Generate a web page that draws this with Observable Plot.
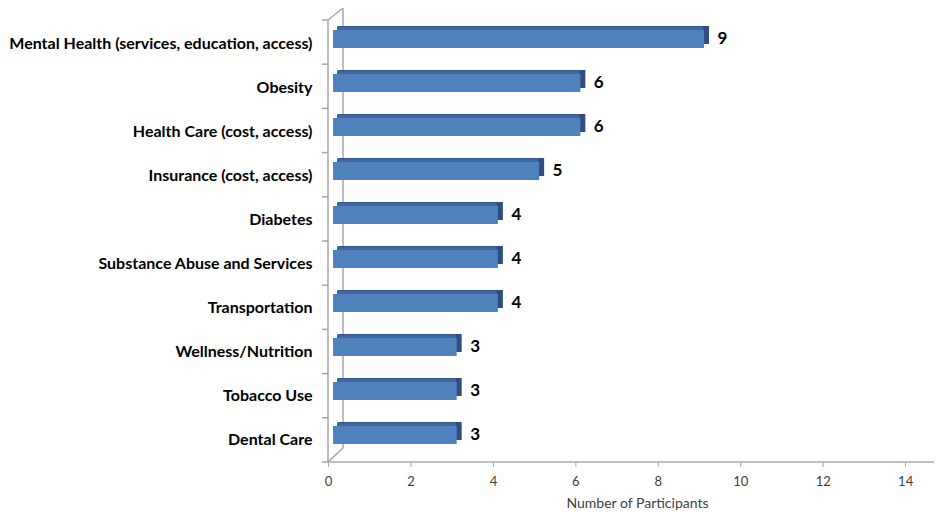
<!DOCTYPE html>
<html>
<head>
<meta charset="utf-8">
<script src="https://cdn.jsdelivr.net/npm/d3@7"></script>
<script src="https://cdn.jsdelivr.net/npm/@observablehq/plot@0.6"></script>
<style>
  html, body { margin: 0; padding: 0; background: #ffffff; }
  #chart svg { display: block; }
</style>
</head>
<body>
<div id="chart"></div>
<script>
const categories = [
  "Mental Health (services, education, access)",
  "Obesity",
  "Health Care (cost, access)",
  "Insurance (cost, access)",
  "Diabetes",
  "Substance Abuse and Services",
  "Transportation",
  "Wellness/Nutrition",
  "Tobacco Use",
  "Dental Care"
];
const participants = [9, 6, 6, 5, 4, 4, 4, 3, 3, 3];
const xTicks = [0, 2, 4, 6, 8, 10, 12, 14];
const axisTitle = "Number of Participants";

const data = categories.map((c, i) => ({category: c, value: participants[i]}));

const W = 938, H = 512, mL = 328, mR = 4, mT = 20, mB = 50;
const gray = "#a6a6a6";
const font = "Lato, 'Open Sans', sans-serif";

const chart = Plot.plot({
  width: W,
  height: H,
  marginLeft: mL,
  marginRight: mR,
  marginTop: mT,
  marginBottom: mB,
  style: {fontFamily: font, background: "#ffffff"},
  x: {domain: [0, 14.7], ticks: xTicks, label: null},
  y: {domain: categories, paddingInner: 0.593, paddingOuter: 0.2965, label: null},
  marks: [
    // 3D side face
    Plot.barX(data, {x: "value", y: "category", fill: "#2e4e7e", dx: 10, dy: -8}),
    // 3D top face
    Plot.barX(data, {x: "value", y: "category", fill: "#3d679e", dx: 9, dy: -7.5, insetRight: 5}),
    // front face
    Plot.barX(data, {x: "value", y: "category", fill: "#4f81bd", dx: 5, dy: -4}),
    Plot.text(data, {
      x: "value", y: "category", text: d => String(d.value),
      textAnchor: "start", dx: 18, dy: -5,
      fontSize: 17, fontWeight: "bold", fill: "#000000"
    }),
    Plot.axisY({
      tickSize: 0, tickPadding: 16, fontSize: 16, fontWeight: "bold",
      fill: "#000000", label: null
    }),
    Plot.axisX({
      ticks: xTicks, tickSize: 5, tickPadding: 9, fontSize: 13,
      stroke: gray, fill: "#404040", label: null
    }),
    Plot.text([axisTitle], {
      frameAnchor: "bottom", dy: 45, dx: 6, fontSize: 14, fill: "#404040"
    })
  ]
});

// Excel-like 3D wall and floor decorations, drawn behind the bars
const svg = d3.select(chart);
const xs = chart.scale("x");
const x0 = xs.apply(0);
const xEnd = xs.apply(14.7);
const yTop = mT, yBottom = H - mB;
const g = svg.insert("g", ":first-child").attr("stroke", gray).attr("fill", "none").attr("stroke-width", 1.5);
// floor line
g.append("line").attr("x1", x0).attr("x2", xEnd).attr("y1", yBottom).attr("y2", yBottom)
  .attr("stroke", "#bfbfbf").attr("stroke-width", 2);
// front wall edge
g.append("line").attr("x1", x0).attr("x2", x0).attr("y1", yTop).attr("y2", yBottom);
// back wall edge
g.append("line").attr("x1", x0 + 15).attr("x2", x0 + 15).attr("y1", yTop - 12).attr("y2", yBottom - 14);
// diagonals
g.append("line").attr("x1", x0).attr("y1", yTop).attr("x2", x0 + 15).attr("y2", yTop - 12);
g.append("line").attr("x1", x0).attr("y1", yBottom).attr("x2", x0 + 15).attr("y2", yBottom - 14);
// category ticks
const step = (yBottom - yTop) / categories.length;
for (let i = 0; i <= categories.length; i++) {
  const yy = yTop + i * step;
  g.append("line").attr("x1", x0 - 6).attr("x2", x0).attr("y1", yy).attr("y2", yy);
}

document.getElementById("chart").appendChild(chart);
</script>
</body>
</html>
